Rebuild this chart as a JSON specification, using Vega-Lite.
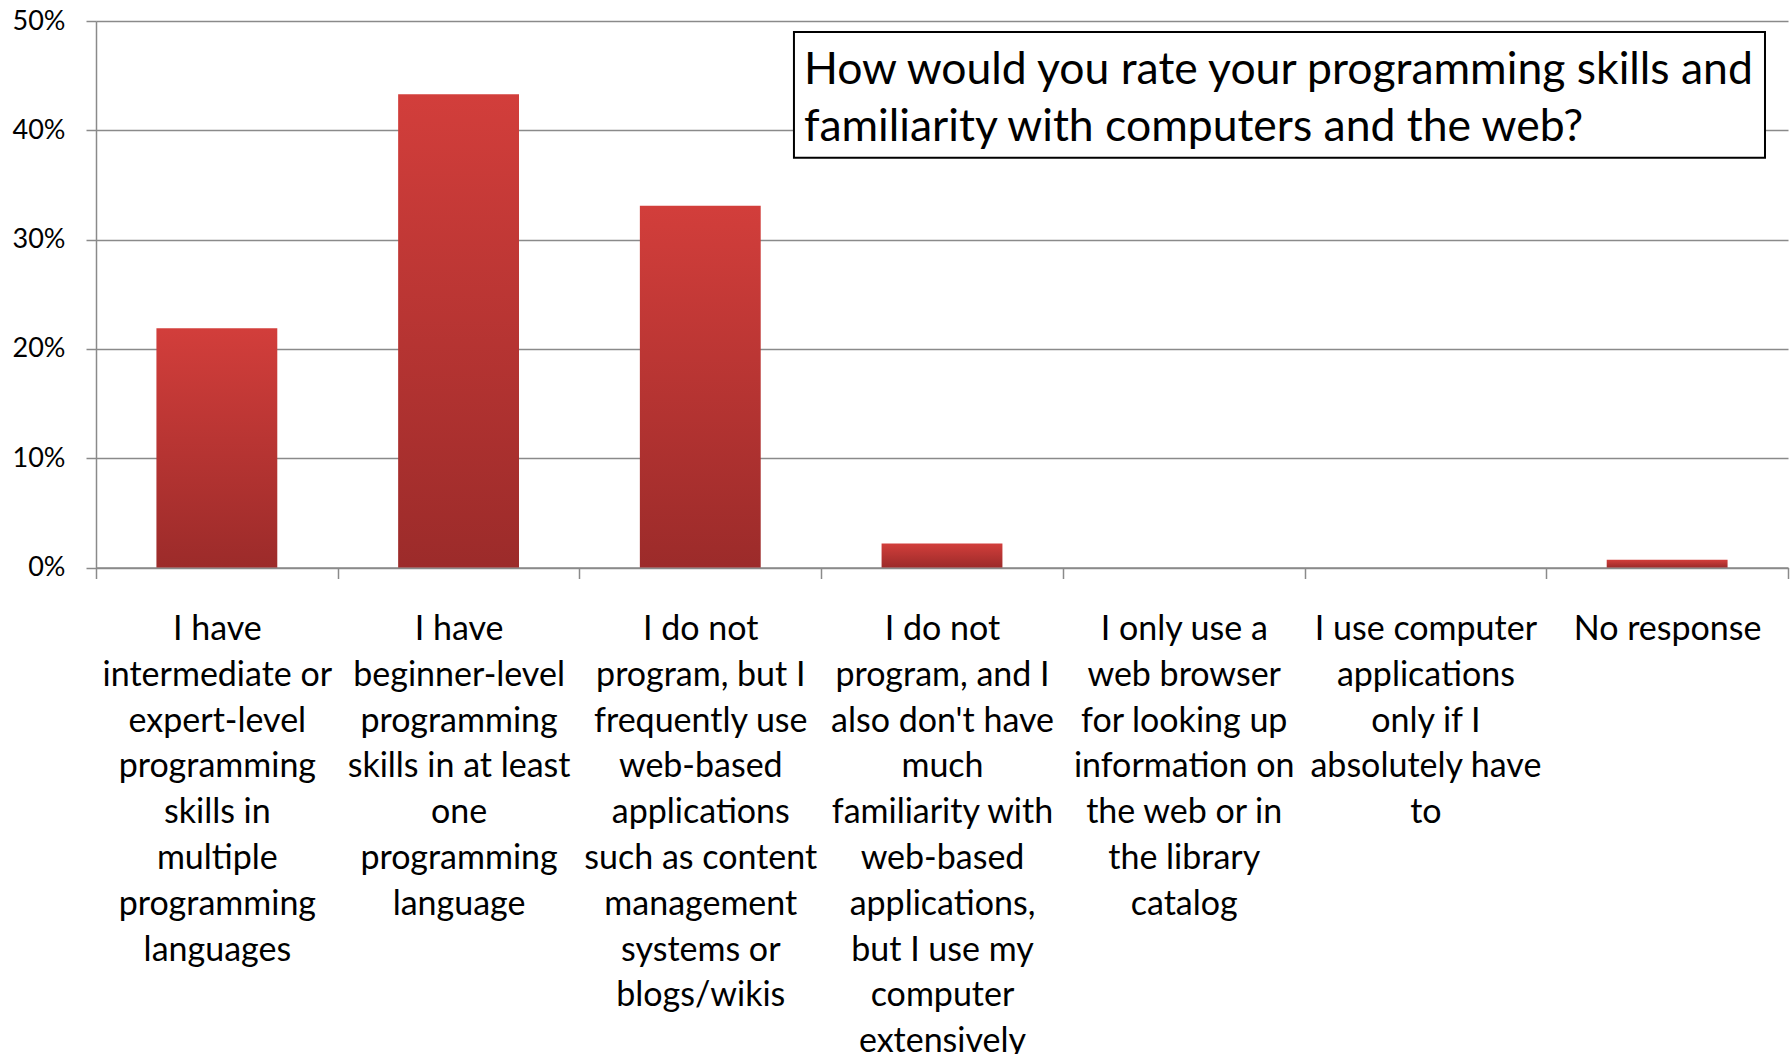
{
  "$schema": "https://vega.github.io/schema/vega-lite/v6.json",
  "width": 1692,
  "height": 546.5,
  "autosize": {"type": "none"},
  "padding": {"left": 96, "top": 21, "right": 2, "bottom": 486.5},
  "background": "white",
  "config": {"view": {"stroke": null}, "font": "Lato"},
  "resolve": {"scale": {"x": "independent"}},
  "layer": [
    {
      "data": {
        "values": [
          {"response": "I have\nintermediate or\nexpert-level\nprogramming\nskills in\nmultiple\nprogramming\nlanguages", "share": 0.219},
          {"response": "I have\nbeginner-level\nprogramming\nskills in at least\none\nprogramming\nlanguage", "share": 0.433},
          {"response": "I do not\nprogram, but I\nfrequently use\nweb-based\napplications\nsuch as content\nmanagement\nsystems or\nblogs/wikis", "share": 0.331},
          {"response": "I do not\nprogram, and I\nalso don't have\nmuch\nfamiliarity with\nweb-based\napplications,\nbut I use my\ncomputer\nextensively", "share": 0.022},
          {"response": "I only use a\nweb browser\nfor looking up\ninformation on\nthe web or in\nthe library\ncatalog", "share": 0},
          {"response": "I use computer\napplications\nonly if I\nabsolutely have\nto", "share": 0},
          {"response": "No response", "share": 0.007}
        ]
      },
      "mark": {
        "type": "bar",
        "width": {"band": 0.5},
        "fill": {
          "gradient": "linear",
          "x1": 0, "y1": 0, "x2": 0, "y2": 1,
          "stops": [
            {"offset": 0, "color": "#d23e3b"},
            {"offset": 1, "color": "#9c2b2a"}
          ]
        }
      },
      "encoding": {
        "x": {
          "field": "response",
          "type": "nominal",
          "sort": null,
          "scale": {"paddingInner": 0, "paddingOuter": 0},
          "axis": {
            "title": null,
            "labelAngle": 0,
            "labelExpr": "datum.value ? split(datum.value, '\\n') : ''",
            "labelFontSize": 34,
            "labelLineHeight": 45.8,
            "labelColor": "black",
            "labelPadding": 34,
            "labelLimit": 0,
            "labelOverlap": false,
            "labelBound": false,
            "labelBaseline": "top",
            "tickBand": "extent",
            "tickSize": 11,
            "tickColor": "#8a8a8a",
            "tickWidth": 1.5,
            "domainColor": "#8a8a8a",
            "domainWidth": 1.5
          }
        },
        "y": {
          "field": "share",
          "type": "quantitative",
          "scale": {"domain": [0, 0.5], "nice": false},
          "axis": {
            "title": null,
            "values": [0, 0.1, 0.2, 0.3, 0.4, 0.5],
            "format": ".0%",
            "labelFontSize": 27,
            "labelColor": "black",
            "labelPadding": 21,
            "tickSize": 10,
            "tickColor": "#8a8a8a",
            "tickWidth": 1.5,
            "domainColor": "#8a8a8a",
            "domainWidth": 1.5,
            "grid": true,
            "gridColor": "#8a8a8a",
            "gridWidth": 1.5
          }
        }
      }
    },
    {
      "data": {"values": [{}]},
      "mark": {"type": "rect", "fill": "white", "stroke": "black", "strokeWidth": 2},
      "encoding": {
        "x": {"datum": 0.4125, "type": "quantitative", "scale": {"domain": [0, 1], "nice": false, "zero": false}, "axis": null},
        "x2": {"datum": 0.9864},
        "y": {"datum": 0.49, "type": "quantitative"},
        "y2": {"datum": 0.375}
      }
    },
    {
      "data": {"values": [{}]},
      "mark": {
        "type": "text",
        "text": ["How would you rate your programming skills and", "familiarity with computers and the web?"],
        "align": "left",
        "baseline": "middle",
        "fontSize": 44.5,
        "lineHeight": 57,
        "color": "black"
      },
      "encoding": {
        "x": {"datum": 0.4184, "type": "quantitative", "scale": {"domain": [0, 1], "nice": false, "zero": false}, "axis": null},
        "y": {"datum": 0.454, "type": "quantitative"}
      }
    }
  ]
}
